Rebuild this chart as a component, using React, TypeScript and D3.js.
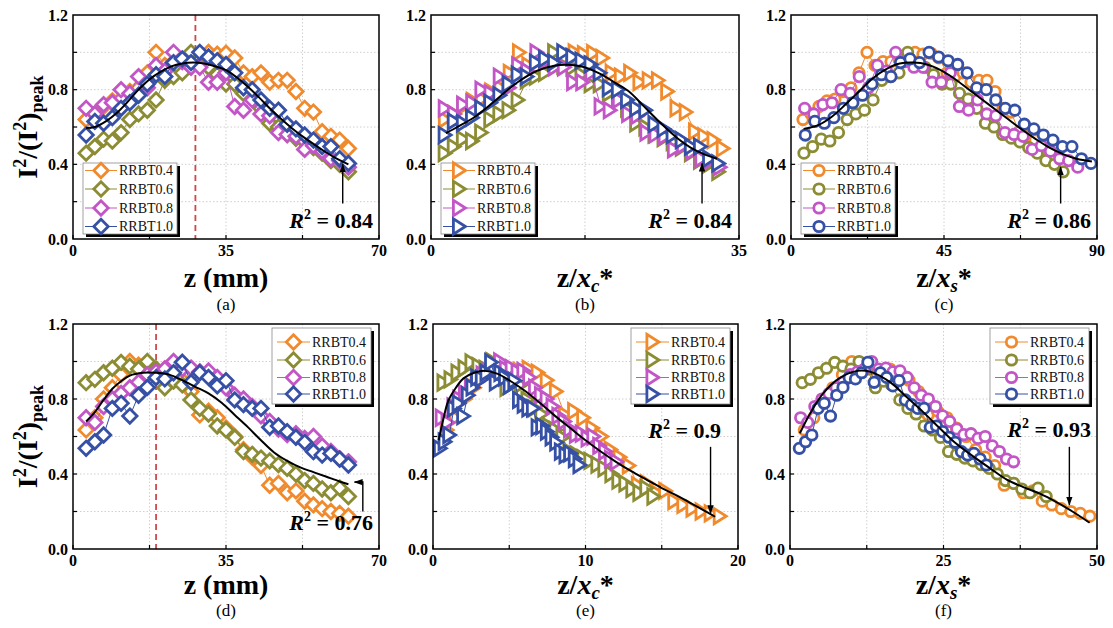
import React, { useEffect, useRef } from "react";
import * as d3 from "d3";

const seriesNames = ["RRBT0.4", "RRBT0.6", "RRBT0.8", "RRBT1.0"];
const seriesColors = ["#f08a2c", "#8b8c33", "#c356c6", "#3550a5"];

// measurement positions along the axis (mm)
const zPos = [3, 5, 7, 9, 11, 13, 15, 17, 19, 21, 23, 25, 27, 29, 31, 33, 35, 37, 39, 41, 43, 45, 47, 49, 51, 53, 55, 57, 59, 61, 63];

// upper row: normalised intensity per sample
const topT04 = [0.64, 0.67, 0.71, 0.74, 0.75, 0.79, 0.81, 0.89, 1.0, 0.93, 0.95, 0.95, 0.96, 0.97, 1.0, 0.99, 0.995, 0.97, 0.89, 0.87, 0.89, 0.84, 0.85, 0.85, 0.79, 0.7, 0.68, 0.575, 0.55, 0.53, 0.485];
const topT06 = [0.46, 0.495, 0.535, 0.525, 0.57, 0.64, 0.67, 0.69, 0.745, 0.85, 0.87, 0.89, 1.0, 0.93, 0.92, 0.88, 0.83, 0.83, 0.78, 0.75, 0.7, 0.62, 0.6, 0.56, 0.54, 0.52, 0.49, 0.46, 0.42, 0.4, 0.36];
const topT08 = [0.7, 0.67, 0.72, 0.73, 0.8, 0.78, 0.87, 0.81, 0.93, 0.9, 1.0, 0.95, 0.92, 0.92, 0.84, 0.84, 0.89, 0.71, 0.69, 0.745, 0.67, 0.66, 0.57, 0.56, 0.55, 0.48, 0.5, 0.47, 0.43, 0.42, 0.385];
const topT10 = [0.557, 0.63, 0.62, 0.65, 0.7, 0.73, 0.77, 0.83, 0.88, 0.87, 0.945, 0.965, 0.945, 1.0, 0.975, 0.955, 0.935, 0.89, 0.81, 0.8, 0.745, 0.7, 0.69, 0.615, 0.59, 0.557, 0.53, 0.495, 0.495, 0.43, 0.405];

// lower row
const botT04 = [0.635, 0.7, 0.8, 0.86, 0.93, 1.0, 0.98, 0.96, 0.95, 0.96, 0.94, 0.9, 0.84, 0.715, 0.735, 0.7, 0.645, 0.6, 0.53, 0.49, 0.445, 0.34, 0.35, 0.3, 0.31, 0.255, 0.235, 0.215, 0.2, 0.19, 0.175];
const botT06 = [0.887, 0.905, 0.94, 0.964, 0.995, 0.975, 0.96, 1.0, 0.96, 0.86, 0.895, 0.875, 0.795, 0.75, 0.72, 0.656, 0.635, 0.595, 0.52, 0.505, 0.485, 0.47, 0.45, 0.43, 0.4, 0.365, 0.35, 0.32, 0.3, 0.325, 0.28];
const botT08 = [0.7, 0.675, 0.76, 0.8, 0.83, 0.86, 0.89, 0.93, 0.945, 0.96, 1.0, 0.96, 0.965, 0.945, 0.95, 0.915, 0.86, 0.82, 0.8, 0.76, 0.71, 0.68, 0.64, 0.61, 0.615, 0.59, 0.6, 0.55, 0.52, 0.48, 0.465];
const botT10 = [0.537, 0.572, 0.608, 0.75, 0.777, 0.709, 0.82, 0.862, 0.914, 0.907, 0.94, 0.996, 0.889, 0.94, 0.915, 0.87, 0.898, 0.795, 0.77, 0.75, 0.75, 0.649, 0.656, 0.626, 0.596, 0.569, 0.519, 0.501, 0.51, 0.48, 0.448];

// characteristic lengths x_c* and x_s* (mm) per sample
const xcTop = [1.9, 1.93, 1.92, 1.93];
const xsTop = [0.85, 0.787, 0.747, 0.714];
const xcBot = [3.35, 4.36, 5.23, 6.56];
const xsBot = [1.29, 1.51, 1.73, 1.97];

// fitted curves [x, y]
const fitA = [[3, 0.595], [5, 0.6], [7.5, 0.63], [10, 0.675], [12.5, 0.735], [15, 0.8], [17.5, 0.855], [20, 0.895], [22.5, 0.925], [25, 0.94], [27.5, 0.945], [30, 0.94], [32.5, 0.925], [35, 0.905], [37.5, 0.865], [40, 0.815], [42.5, 0.76], [45, 0.7], [47.5, 0.645], [50, 0.595], [52.5, 0.55], [55, 0.51], [57.5, 0.47], [60, 0.435], [63, 0.4]];
const fitB = [[1.7, 0.567], [3, 0.6], [5, 0.655], [7, 0.73], [8.5, 0.79], [10, 0.845], [12, 0.9], [14, 0.928], [15.5, 0.933], [17, 0.925], [19, 0.89], [21, 0.835], [22.5, 0.79], [24, 0.72], [26, 0.625], [28, 0.54], [29.5, 0.49], [31, 0.455], [32.5, 0.43]];
const fitC = [[3.7, 0.59], [8, 0.61], [12, 0.655], [16, 0.72], [20, 0.79], [24, 0.86], [28, 0.91], [32, 0.94], [36, 0.945], [40, 0.935], [44, 0.905], [48, 0.86], [52, 0.805], [56, 0.75], [60, 0.695], [64, 0.64], [68, 0.585], [72, 0.535], [76, 0.49], [80, 0.455], [84, 0.43], [88.5, 0.415]];
const fitD = [[3, 0.68], [5, 0.73], [7, 0.795], [9, 0.855], [11, 0.895], [13, 0.925], [16, 0.94], [19, 0.94], [22, 0.93], [25, 0.9], [28, 0.865], [31, 0.83], [34, 0.78], [37, 0.715], [40, 0.65], [43, 0.58], [46, 0.515], [49, 0.47], [52, 0.435], [55, 0.41], [58, 0.385], [61, 0.36], [63, 0.345]];
const fitE = [[0.37, 0.58], [0.7, 0.7], [1, 0.79], [1.5, 0.86], [2, 0.91], [2.7, 0.94], [3.4, 0.95], [4.2, 0.935], [5, 0.9], [6, 0.845], [7, 0.78], [8, 0.71], [9, 0.645], [10, 0.58], [11, 0.52], [12, 0.465], [13, 0.415], [14, 0.37], [15, 0.325], [16, 0.285], [17, 0.24], [18, 0.195], [18.5, 0.172]];
const fitF = [[1.6, 0.617], [3.3, 0.724], [5.4, 0.83], [8, 0.91], [11, 0.95], [13, 0.946], [16.3, 0.89], [19, 0.81], [21.7, 0.73], [24.4, 0.644], [27, 0.564], [30, 0.49], [32.6, 0.43], [35.3, 0.37], [38, 0.33], [40.7, 0.295], [43.4, 0.25], [46, 0.2], [48.8, 0.14]];

const yLabels = [0, 0.4, 0.8, 1.2];
const yGrid = [0.2, 0.4, 0.6, 0.8, 1.0];

const topRows = [topT04, topT06, topT08, topT10];
const botRows = [botT04, botT06, botT08, botT10];

const FONT = "'Liberation Serif', 'Times New Roman', serif";

const markerPaths: Record<string, string> = {
  diamond: "M0,-7.2L7.2,0L0,7.2L-7.2,0Z",
  triangle: "M6.4,0L-5.6,-7.6L-5.6,7.6Z",
  circle: "M0,-5.2A5.2,5.2 0 1,1 0,5.2A5.2,5.2 0 1,1 0,-5.2Z",
};

type Arrow = { kind: "up" | "down" | "bent"; x: number; y0: number; y1: number; tip?: number };

type Panel = {
  box: [number, number, number, number];
  rows: number[][];
  norm: number[] | null;
  xMax: number;
  xLabels: number[];
  xGrid: number[];
  marker: string;
  fit: number[][];
  r2: string;
  r2Pos: [number, number];
  arrow: Arrow;
  redLine?: number;
  legendTop: boolean;
  xTitle: "mm" | "c" | "s";
  yTitle: boolean;
  label: string;
  titleY: number;
  labelY: number;
};

const panels: Panel[] = [
  { box: [73, 379, 15, 239], rows: topRows, norm: null, xMax: 70, xLabels: [0, 35, 70], xGrid: [17.5, 35, 52.5], marker: "diamond", fit: fitA, r2: "0.84", r2Pos: [373, 228], arrow: { kind: "up", x: 61.7, y0: 0.19, y1: 0.4 }, redLine: 28, legendTop: false, xTitle: "mm", yTitle: true, label: "(a)", titleY: 287, labelY: 310 },
  { box: [431, 739, 15, 239], rows: topRows, norm: xcTop, xMax: 35, xLabels: [0, 35], xGrid: [17.5], marker: "triangle", fit: fitB, r2: "0.84", r2Pos: [732, 228], arrow: { kind: "up", x: 30.8, y0: 0.19, y1: 0.405 }, legendTop: false, xTitle: "c", yTitle: false, label: "(b)", titleY: 287, labelY: 310 },
  { box: [791, 1097, 15, 239], rows: topRows, norm: xsTop, xMax: 90, xLabels: [0, 45, 90], xGrid: [22.5, 45, 67.5], marker: "circle", fit: fitC, r2: "0.86", r2Pos: [1091, 228], arrow: { kind: "up", x: 79.3, y0: 0.19, y1: 0.385 }, legendTop: false, xTitle: "s", yTitle: false, label: "(c)", titleY: 287, labelY: 310 },
  { box: [73, 379, 324, 549], rows: botRows, norm: null, xMax: 70, xLabels: [0, 35, 70], xGrid: [17.5, 35, 52.5], marker: "diamond", fit: fitD, r2: "0.76", r2Pos: [373, 530], arrow: { kind: "bent", x: 66.3, y0: 0.2, y1: 0.357, tip: 64.4 }, redLine: 19, legendTop: true, xTitle: "mm", yTitle: true, label: "(d)", titleY: 594, labelY: 616 },
  { box: [433, 738, 324, 549], rows: botRows, norm: xcBot, xMax: 20, xLabels: [0, 10, 20], xGrid: [5, 10, 15], marker: "triangle", fit: fitE, r2: "0.9", r2Pos: [721, 438], arrow: { kind: "down", x: 18.2, y0: 0.545, y1: 0.19 }, legendTop: true, xTitle: "c", yTitle: false, label: "(e)", titleY: 594, labelY: 616 },
  { box: [790, 1097, 324, 549], rows: botRows, norm: xsBot, xMax: 50, xLabels: [0, 25, 50], xGrid: [12.5, 25, 37.5], marker: "circle", fit: fitF, r2: "0.93", r2Pos: [1091, 437], arrow: { kind: "down", x: 45.5, y0: 0.545, y1: 0.235 }, legendTop: true, xTitle: "s", yTitle: false, label: "(f)", titleY: 594, labelY: 616 },
];

function drawPanel(svg: d3.Selection<SVGSVGElement, unknown, null, undefined>, p: Panel) {
  const [left, right, top, bottom] = p.box;
  const x = d3.scaleLinear().domain([0, p.xMax]).range([left, right]);
  const y = d3.scaleLinear().domain([0, 1.2]).range([bottom, top]);
  const g = svg.append("g").style("font-family", FONT);

  // dotted grid
  g.selectAll(null).data(p.xGrid).join("line")
    .attr("x1", (d) => x(d)).attr("x2", (d) => x(d)).attr("y1", top).attr("y2", bottom)
    .attr("stroke", "#c4c4c4").attr("stroke-width", 0.8).attr("stroke-dasharray", "1.5,2");
  g.selectAll(null).data(yGrid).join("line")
    .attr("x1", left).attr("x2", right).attr("y1", (d) => y(d)).attr("y2", (d) => y(d))
    .attr("stroke", "#c4c4c4").attr("stroke-width", 0.8).attr("stroke-dasharray", "1.5,2");

  if (p.redLine !== undefined) {
    g.append("line")
      .attr("x1", x(p.redLine)).attr("x2", x(p.redLine)).attr("y1", top).attr("y2", bottom)
      .attr("stroke", "#d0474a").attr("stroke-width", 1.8).attr("stroke-dasharray", "6,4");
  }

  // data series
  const line = d3.line<number[]>().x((d) => x(d[0])).y((d) => y(d[1]));
  p.rows.forEach((vals, k) => {
    const pts = vals.map((v, i) => [p.norm ? zPos[i] / p.norm[k] : zPos[i], v]);
    g.append("path").datum(pts).attr("d", line).attr("fill", "none")
      .attr("stroke", seriesColors[k]).attr("stroke-width", 1);
    g.selectAll(null).data(pts).join("path")
      .attr("transform", (d) => `translate(${x(d[0])},${y(d[1])})`)
      .attr("d", markerPaths[p.marker])
      .attr("fill", "#fff").attr("stroke", seriesColors[k]).attr("stroke-width", 2.8);
  });

  // fitted curve
  g.append("path").datum(p.fit)
    .attr("d", d3.line<number[]>().x((d) => x(d[0])).y((d) => y(d[1])).curve(d3.curveCatmullRom))
    .attr("fill", "none").attr("stroke", "#000").attr("stroke-width", 2);

  // frame and inward ticks
  g.append("rect").attr("x", left).attr("y", top).attr("width", right - left).attr("height", bottom - top)
    .attr("fill", "none").attr("stroke", "#000").attr("stroke-width", 1.5);
  const xt = Array.from(new Set([...p.xLabels, ...p.xGrid]));
  g.selectAll(null).data(xt).join("line")
    .attr("x1", (d) => x(d)).attr("x2", (d) => x(d)).attr("y1", bottom).attr("y2", bottom - 4)
    .attr("stroke", "#000").attr("stroke-width", 1.2);
  g.selectAll(null).data(yGrid).join("line")
    .attr("x1", left).attr("x2", left + 4).attr("y1", (d) => y(d)).attr("y2", (d) => y(d))
    .attr("stroke", "#000").attr("stroke-width", 1.2);

  // tick labels
  g.selectAll(null).data(p.xLabels).join("text")
    .attr("x", (d) => x(d)).attr("y", bottom + 17).attr("text-anchor", "middle")
    .attr("font-weight", "bold").attr("font-size", 16)
    .text((d) => String(d));
  g.selectAll(null).data(yLabels).join("text")
    .attr("x", left - 5).attr("y", (d) => y(d)).attr("dy", "0.35em").attr("text-anchor", "end")
    .attr("font-weight", "bold").attr("font-size", 16)
    .text((d) => d.toFixed(1));

  // legend
  const lw = p.legendTop ? 99 : 94;
  const lh = p.legendTop ? 76 : 71;
  const lx = p.legendTop ? right - 107 : left + 10;
  const ly = p.legendTop ? top + 4 : top + 148;
  const rowY = p.legendTop ? [14, 32, 49.5, 66] : [7.5, 26, 45, 63.5];
  const lg = g.append("g").attr("transform", `translate(${lx},${ly})`);
  lg.append("rect").attr("x", 3).attr("y", 3).attr("width", lw).attr("height", lh).attr("fill", "#000");
  lg.append("rect").attr("width", lw).attr("height", lh).attr("fill", "#fff")
    .attr("stroke", "#8a8a8a").attr("stroke-width", 0.8);
  const sx0 = p.legendTop ? 5 : 2;
  const sx1 = p.legendTop ? 38 : 34;
  seriesNames.forEach((name, k) => {
    const ry = rowY[k];
    lg.append("line").attr("x1", sx0).attr("x2", sx1).attr("y1", ry).attr("y2", ry)
      .attr("stroke", seriesColors[k]).attr("stroke-width", 1);
    lg.append("path").attr("transform", `translate(${(sx0 + sx1) / 2},${ry})`)
      .attr("d", markerPaths[p.marker]).attr("fill", "#fff")
      .attr("stroke", seriesColors[k]).attr("stroke-width", 2.8);
    lg.append("text").attr("x", sx1 + 2).attr("y", ry).attr("dy", "0.35em")
      .attr("font-size", 14).attr("fill", "#111").text(name);
  });

  // R^2 label
  const r2 = g.append("text").attr("x", p.r2Pos[0]).attr("y", p.r2Pos[1]).attr("text-anchor", "end")
    .attr("font-weight", "bold").attr("font-size", 22);
  r2.append("tspan").attr("font-style", "italic").text("R");
  r2.append("tspan").attr("font-size", 14).attr("dy", -9).text("2");
  r2.append("tspan").attr("dy", 9).text(` = ${p.r2}`);

  // arrow to the fitted curve
  const a = p.arrow;
  const d = a.kind === "bent"
    ? `M${x(a.x)},${y(a.y0)}V${y(a.y1)}H${x(a.tip ?? a.x)}`
    : `M${x(a.x)},${y(a.y0)}V${y(a.y1)}`;
  g.append("path").attr("d", d).attr("fill", "none").attr("stroke", "#000")
    .attr("stroke-width", 1.4).attr("marker-end", "url(#arrowHead)");

  // axis titles
  const cx = (left + right) / 2;
  const xt2 = g.append("text").attr("x", cx).attr("y", p.titleY).attr("text-anchor", "middle")
    .attr("font-weight", "bold").attr("font-size", 28);
  if (p.xTitle === "mm") {
    xt2.text("z (mm)");
  } else {
    xt2.append("tspan").text("z/");
    xt2.append("tspan").attr("font-style", "italic").text("x");
    xt2.append("tspan").attr("font-style", "italic").attr("font-size", 19).attr("dy", 5).text(p.xTitle);
    xt2.append("tspan").attr("dy", -5).text("*");
  }
  g.append("text").attr("x", cx).attr("y", p.labelY).attr("text-anchor", "middle")
    .attr("font-size", 17).text(p.label);

  if (p.yTitle) {
    const yt = g.append("text")
      .attr("transform", `translate(37,${(top + bottom) / 2}) rotate(-90)`)
      .attr("text-anchor", "middle").attr("font-weight", "bold").attr("font-size", 28);
    yt.append("tspan").text("I");
    yt.append("tspan").attr("font-size", 18).attr("dy", -11).text("2");
    yt.append("tspan").attr("dy", 11).text("/(I");
    yt.append("tspan").attr("font-size", 18).attr("dy", -11).text("2");
    yt.append("tspan").attr("dy", 11).text(")");
    yt.append("tspan").attr("font-size", 18).attr("dy", 6).text("peak");
  }
}

export default function App() {
  const ref = useRef<SVGSVGElement>(null);

  useEffect(() => {
    if (!ref.current) return;
    const svg = d3.select(ref.current);
    svg.selectAll("*").remove();

    svg.append("defs").append("marker")
      .attr("id", "arrowHead").attr("viewBox", "0 0 10 10").attr("refX", 9).attr("refY", 5)
      .attr("markerWidth", 9).attr("markerHeight", 9).attr("markerUnits", "userSpaceOnUse")
      .attr("orient", "auto")
      .append("path").attr("d", "M0,1.5L10,5L0,8.5Z").attr("fill", "#000");

    svg.append("rect").attr("width", 1113).attr("height", 628).attr("fill", "#fff");
    panels.forEach((p) => drawPanel(svg, p));
  }, []);

  return (
    <svg ref={ref} width={1113} height={628}
      style={{ position: "absolute", left: 0, top: 0, display: "block", fontFamily: FONT }} />
  );
}
